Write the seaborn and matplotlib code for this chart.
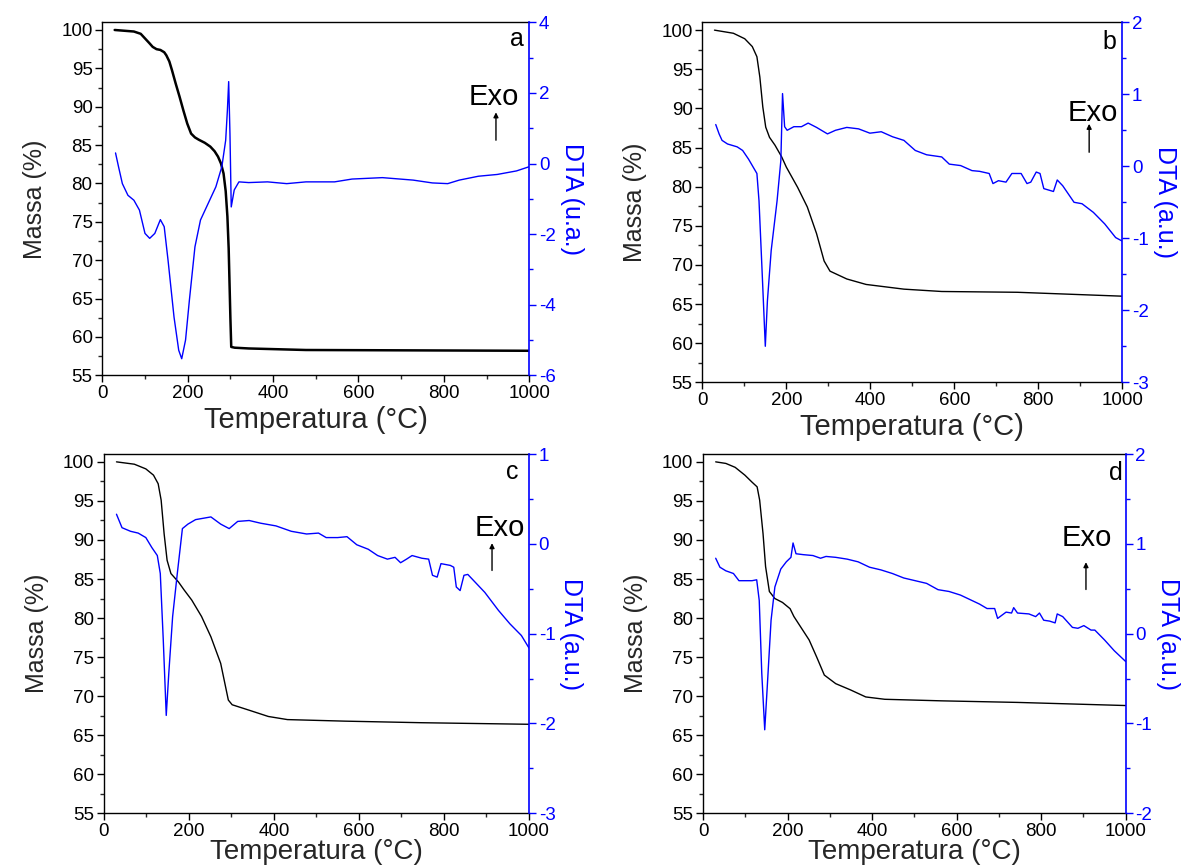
import matplotlib
matplotlib.use("Agg")
import matplotlib.pyplot as plt
import seaborn as sns
from matplotlib.ticker import MultipleLocator

sns.set_theme(style="ticks")
plt.rcParams['font.family'] = ['Liberation Sans', 'DejaVu Sans']
plt.rcParams['axes.unicode_minus'] = False

# ---------------- sample a ----------------
tga_a_T = [29, 74, 90, 100, 110, 118, 127, 136, 145, 150, 157, 163, 172, 181, 190, 199, 208, 217, 226, 240,
           253, 263, 271, 278, 284, 289, 293, 296, 298, 300, 302, 310, 343, 477, 1000]
tga_a_M = [100, 99.8, 99.5, 98.9, 98.3, 97.8, 97.5, 97.4, 97.1, 96.7, 95.9, 94.8, 93.0, 91.3, 89.5, 87.8,
           86.5, 86.0, 85.7, 85.3, 84.8, 84.2, 83.5, 82.6, 81.3, 79.0, 75.7, 71.5, 67.0, 62.5, 58.7, 58.6,
           58.5, 58.3, 58.2]
dta_a_T = [31, 38, 47, 60, 74, 87, 100, 111, 123, 136, 145, 154, 168, 179, 186, 195, 204, 217, 230, 248,
           266, 280, 289, 293, 296, 299, 302, 309, 320, 343, 387, 432, 477, 544, 585, 656, 728, 773, 809,
           836, 881, 925, 970, 1000]
dta_a_V = [0.30, -0.09, -0.57, -0.90, -1.04, -1.32, -1.98, -2.12, -1.98, -1.59, -1.79, -2.74, -4.35, -5.29,
           -5.53, -5.00, -3.87, -2.36, -1.60, -1.13, -0.66, -0.09, 0.66, 1.51, 2.32, 0.85, -1.23, -0.75,
           -0.52, -0.54, -0.52, -0.57, -0.52, -0.52, -0.44, -0.40, -0.47, -0.55, -0.57, -0.47, -0.36,
           -0.31, -0.21, -0.09]

# ---------------- sample b ----------------
tga_b_T = [29, 74, 101, 119, 130, 137, 144, 151, 160, 173, 189, 200, 227, 250, 272, 290, 304, 344, 390, 480, 570, 750, 1000]
tga_b_M = [100, 99.6, 98.9, 97.9, 96.6, 94.0, 90.2, 87.6, 86.3, 85.3, 83.8, 82.5, 79.9, 77.4, 74.0, 70.5, 69.2, 68.2, 67.5, 66.9, 66.6, 66.5, 66.0]
dta_b_T = [32, 40, 47, 60, 83, 96, 110, 124, 130, 135, 142, 150, 155, 164, 178, 187, 191, 196, 202, 218,
           236, 252, 272, 298, 317, 344, 372, 399, 426, 453, 480, 507, 534, 570, 588, 615, 642, 660, 683,
           692, 705, 723, 737, 759, 773, 782, 795, 804, 813, 836, 845, 858, 885, 904, 931, 958, 984, 1000]
dta_b_V = [0.58, 0.45, 0.36, 0.31, 0.27, 0.22, 0.10, -0.04, -0.10, -0.48, -1.41, -2.50, -1.87, -1.17, -0.48,
           0.08, 1.01, 0.55, 0.50, 0.55, 0.55, 0.60, 0.54, 0.45, 0.50, 0.54, 0.52, 0.46, 0.48, 0.41, 0.36,
           0.22, 0.16, 0.13, 0.03, 0.01, -0.06, -0.07, -0.10, -0.24, -0.20, -0.22, -0.10, -0.10, -0.24,
           -0.22, -0.08, -0.10, -0.31, -0.35, -0.19, -0.27, -0.50, -0.52, -0.64, -0.80, -0.99, -1.04]

# ---------------- sample c ----------------
tga_c_T = [30, 72, 99, 117, 128, 135, 142, 149, 158, 176, 189, 207, 230, 252, 275, 293, 302, 342, 387, 432, 568, 748, 1000]
tga_c_M = [100, 99.7, 99.1, 98.3, 97.2, 95.1, 90.8, 87.4, 85.7, 84.6, 83.6, 82.3, 80.2, 77.6, 74.2, 69.5, 68.9, 68.2, 67.4, 67.0, 66.8, 66.6, 66.4]
dta_c_T = [30, 43, 63, 81, 99, 113, 126, 133, 140, 147, 153, 162, 173, 185, 198, 216, 252, 275, 295, 315,
           342, 369, 405, 441, 477, 505, 523, 550, 572, 595, 622, 644, 667, 685, 698, 712, 725, 748, 764,
           773, 784, 793, 815, 823, 829, 838, 847, 856, 874, 896, 928, 955, 982, 1000]
dta_c_V = [0.33, 0.18, 0.14, 0.12, 0.07, -0.04, -0.13, -0.33, -1.07, -1.91, -1.44, -0.81, -0.33, 0.17, 0.22,
           0.27, 0.30, 0.22, 0.17, 0.25, 0.26, 0.23, 0.20, 0.14, 0.11, 0.12, 0.07, 0.07, 0.08, -0.01, -0.06,
           -0.13, -0.17, -0.15, -0.21, -0.17, -0.13, -0.16, -0.17, -0.35, -0.37, -0.22, -0.24, -0.26,
           -0.48, -0.52, -0.35, -0.34, -0.43, -0.54, -0.74, -0.89, -1.02, -1.16]

# ---------------- sample d ----------------
tga_d_T = [30, 54, 76, 99, 116, 128, 134, 142, 148, 157, 170, 188, 206, 215, 233, 251, 269, 287, 314, 349, 385, 430, 565, 744, 1000]
tga_d_M = [100, 99.8, 99.3, 98.3, 97.4, 96.8, 95.1, 90.8, 86.6, 83.4, 82.5, 82.0, 81.2, 80.2, 78.7, 77.2, 75.0, 72.7, 71.6, 70.8, 69.9, 69.6, 69.4, 69.2, 68.8]
dta_d_T = [30, 40, 54, 72, 85, 99, 116, 127, 133, 139, 146, 152, 161, 170, 184, 197, 208, 213, 220, 237,
           260, 278, 291, 314, 341, 367, 394, 421, 448, 475, 502, 529, 556, 582, 609, 636, 654, 672, 690,
           697, 717, 730, 735, 744, 771, 787, 796, 806, 820, 833, 838, 851, 874, 887, 901, 918, 927, 950,
           973, 1000]
dta_d_V = [0.84, 0.74, 0.70, 0.67, 0.59, 0.59, 0.59, 0.60, 0.37, -0.44, -1.07, -0.59, 0.15, 0.52, 0.72, 0.80,
           0.85, 1.01, 0.89, 0.88, 0.87, 0.84, 0.86, 0.85, 0.83, 0.80, 0.74, 0.71, 0.67, 0.62, 0.59, 0.56,
           0.49, 0.47, 0.43, 0.37, 0.33, 0.28, 0.28, 0.17, 0.24, 0.23, 0.29, 0.23, 0.22, 0.19, 0.23, 0.15,
           0.14, 0.12, 0.22, 0.19, 0.07, 0.06, 0.09, 0.04, 0.04, -0.07, -0.19, -0.31]

panel_letters = ["a", "b", "c", "d"]
dta_labels = ["DTA (u.a.)", "DTA (a.u.)", "DTA (a.u.)", "DTA (a.u.)"]
dta_limits = [(-6, 4), (-3, 2), (-3, 1), (-2, 2)]
dta_major = [2, 1, 1, 1]
mass_label = "Massa (%)"
temp_label = "Temperatura (°C)"

panels = [
    dict(rect=[0.0856, 0.5676, 0.3573, 0.4067], tga=(tga_a_T, tga_a_M), dta=(dta_a_T, dta_a_V), tga_lw=1.8,
         exo=(0.917, 0.789), arrow=(0.922, 0.666, 0.745), letter=(0.970, 0.952), xpad=3, xfs=21),
    dict(rect=[0.5877, 0.5596, 0.3515, 0.4147], tga=(tga_b_T, tga_b_M), dta=(dta_b_T, dta_b_V), tga_lw=1.0,
         exo=(0.929, 0.748), arrow=(0.921, 0.639, 0.718), letter=(0.968, 0.946), xpad=3, xfs=21),
    dict(rect=[0.0868, 0.0630, 0.3559, 0.4139], tga=(tga_c_T, tga_c_M), dta=(dta_c_T, dta_c_V), tga_lw=1.0,
         exo=(0.932, 0.794), arrow=(0.913, 0.676, 0.752), letter=(0.961, 0.949), xpad=-1, xfs=20),
    dict(rect=[0.5883, 0.0630, 0.3537, 0.4139], tga=(tga_d_T, tga_d_M), dta=(dta_d_T, dta_d_V), tga_lw=1.0,
         exo=(0.909, 0.767), arrow=(0.906, 0.623, 0.699), letter=(0.977, 0.947), xpad=-1, xfs=20),
]

blue = '#0000ff'

fig = plt.figure(figsize=(11.95, 8.68), dpi=100)

for i, p in enumerate(panels):
    ax = fig.add_axes(p["rect"])
    ax2 = ax.twinx()

    sns.lineplot(x=p["tga"][0], y=p["tga"][1], ax=ax, color='black', lw=p["tga_lw"], sort=False)
    sns.lineplot(x=p["dta"][0], y=p["dta"][1], ax=ax2, color=blue, lw=1.0, sort=False)

    ax.set_xlim(0, 1000)
    ax.set_ylim(55, 101)
    ax2.set_ylim(*dta_limits[i])

    ax.xaxis.set_major_locator(MultipleLocator(200))
    ax.xaxis.set_minor_locator(MultipleLocator(100))
    ax.yaxis.set_major_locator(MultipleLocator(5))
    ax.yaxis.set_minor_locator(MultipleLocator(2.5))
    ax2.yaxis.set_major_locator(MultipleLocator(dta_major[i]))
    ax2.yaxis.set_minor_locator(MultipleLocator(dta_major[i] / 2))

    ax.tick_params(axis='both', which='major', direction='out', length=5, width=1, labelsize=13.5,
                   colors='black', pad=2)
    ax.tick_params(axis='both', which='minor', direction='out', length=3, width=1)
    ax2.tick_params(axis='y', which='major', direction='out', length=5, width=1, labelsize=13.5,
                    colors=blue, pad=2)
    ax2.tick_params(axis='y', which='minor', direction='out', length=3, width=1, colors=blue)

    for s in ['left', 'bottom', 'top']:
        ax.spines[s].set_color('black')
        ax.spines[s].set_linewidth(1.0)
    ax.spines['right'].set_visible(False)
    ax2.spines['right'].set_color(blue)
    ax2.spines['right'].set_linewidth(1.2)
    ax2.spines['left'].set_visible(False)
    ax2.spines['top'].set_visible(False)
    ax2.spines['bottom'].set_visible(False)

    ax.set_xlabel(temp_label, fontsize=p["xfs"], labelpad=p["xpad"])
    ax.set_ylabel(mass_label, fontsize=18, labelpad=10)
    ax2.set_ylabel(dta_labels[i], fontsize=18, color=blue, rotation=270, labelpad=20)

    ax.text(p["exo"][0], p["exo"][1], "Exo", transform=ax.transAxes, fontsize=21,
            ha='center', va='center', color='black')
    ax.annotate('', xy=(p["arrow"][0], p["arrow"][2]), xytext=(p["arrow"][0], p["arrow"][1]),
                xycoords='axes fraction', textcoords='axes fraction',
                arrowprops=dict(arrowstyle='-|>', color='black', lw=1.0, mutation_scale=7,
                                shrinkA=0, shrinkB=0))
    ax.text(p["letter"][0], p["letter"][1], panel_letters[i], transform=ax.transAxes, fontsize=18,
            ha='center', va='center', color='black')

fig.savefig("out.png", dpi=100, facecolor='white')
